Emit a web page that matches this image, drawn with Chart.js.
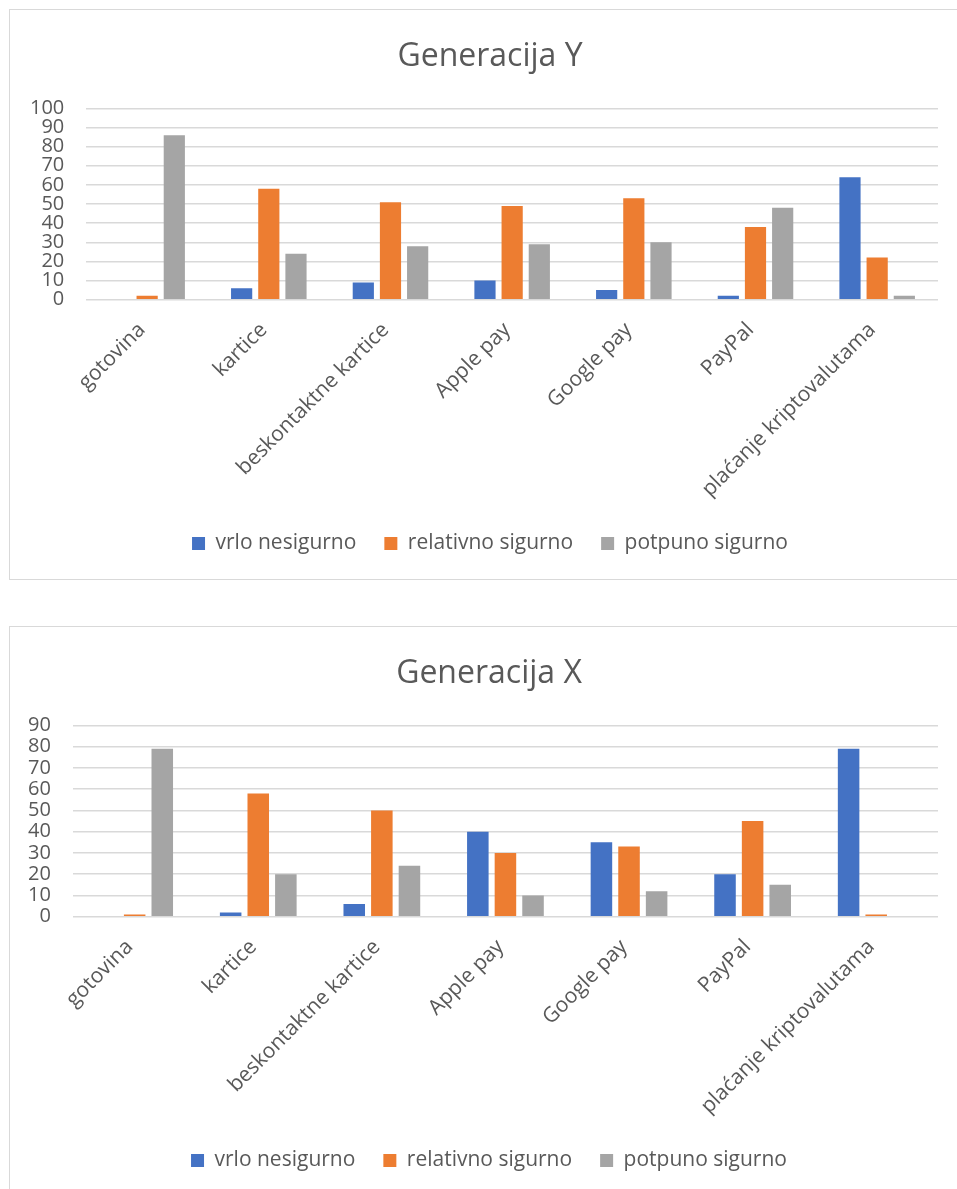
<!DOCTYPE html>
<html>
<head>
<meta charset="utf-8">
<script src="https://cdn.jsdelivr.net/npm/chart.js@4"></script>
<style>
  body { margin: 0; background: #fff; overflow: hidden; width: 957px; height: 1189px; position: relative; }
  .box { position: absolute; left: 9px; width: 1000px; height: 571px; border: 1px solid #d9d9d9; box-sizing: border-box; }
  .wrap { position: absolute; top: 0; height: 571px; }
</style>
</head>
<body>
<div class="box" style="top:9px"><div class="wrap" style="left:-2px;width:964px"><canvas id="chartY"></canvas></div></div>
<div class="box" style="top:626px"><div class="wrap" style="left:-4px;width:966px"><canvas id="chartX"></canvas></div></div>
<script>
const categories = ["gotovina", "kartice", "beskontaktne kartice", "Apple pay", "Google pay", "PayPal", "plaćanje kriptovalutama"];
const seriesNames = ["vrlo nesigurno", "relativno sigurno", "potpuno sigurno"];
const colors = ["#4472C4", "#ED7D31", "#A5A5A5"];

// Generacija Y
const genY_vrlo = [0, 6, 9, 10, 5, 2, 64];
const genY_relativno = [2, 58, 51, 49, 53, 38, 22];
const genY_potpuno = [86, 24, 28, 29, 30, 48, 2];

// Generacija X
const genX_vrlo = [0, 2, 6, 40, 35, 20, 79];
const genX_relativno = [1, 58, 50, 30, 33, 45, 1];
const genX_potpuno = [79, 20, 24, 10, 12, 15, 0];

const textColor = "#595959";
const fontFamily = "'Open Sans', sans-serif";

function makeChart(id, title, values, yMax, rightGap) {
  const ctx = document.getElementById(id).getContext("2d");
  return new Chart(ctx, {
    type: "bar",
    data: {
      labels: categories,
      datasets: values.map((v, i) => ({
        label: seriesNames[i],
        data: v,
        backgroundColor: colors[i],
        categoryPercentage: 0.67,
        barPercentage: 0.78
      }))
    },
    options: {
      responsive: true,
      maintainAspectRatio: false,
      animation: false,
      layout: { padding: { left: 0, right: 0, top: 0, bottom: 17 } },
      plugins: {
        title: {
          display: true,
          text: title,
          color: textColor,
          font: { family: fontFamily, size: 32, weight: "normal" },
          padding: { top: 28, bottom: 32 }
        },
        legend: {
          position: "bottom",
          labels: {
            color: textColor,
            font: { family: fontFamily, size: 21 },
            boxWidth: 13,
            boxHeight: 13,
            padding: 28
          }
        },
        tooltip: { enabled: false }
      },
      scales: {
        x: {
          grid: { display: false },
          border: { display: false },
          afterFit: (scale) => {
            // squeeze the axis box a little and let the long labels run past it
            scale.height -= 7;
            scale._computeLabelArea = () => undefined;
          },
          ticks: {
            color: textColor,
            font: { family: fontFamily, size: 21 },
            minRotation: 45,
            maxRotation: 45,
            autoSkip: false,
            padding: 10,
            labelOffset: -5
          }
        },
        y: {
          min: 0,
          max: yMax,
          grid: { color: "#d9d9d9", lineWidth: 1.5, drawTicks: false },
          border: { display: false },
          ticks: {
            stepSize: 10,
            color: textColor,
            font: { family: fontFamily, size: 20 },
            autoSkip: false,
            padding: 22
          }
        },
        // empty right-hand box: keeps the plot's right edge while title/legend stay centred on the full width
        gap: {
          position: "right",
          grid: { display: false },
          border: { display: false },
          ticks: { display: false },
          afterFit: (scale) => { scale.width = rightGap; }
        }
      }
    }
  });
}

makeChart("chartY", "Generacija Y", [genY_vrlo, genY_relativno, genY_potpuno], 100, 34);
makeChart("chartX", "Generacija X", [genX_vrlo, genX_relativno, genX_potpuno], 90, 34);
</script>
</body>
</html>
